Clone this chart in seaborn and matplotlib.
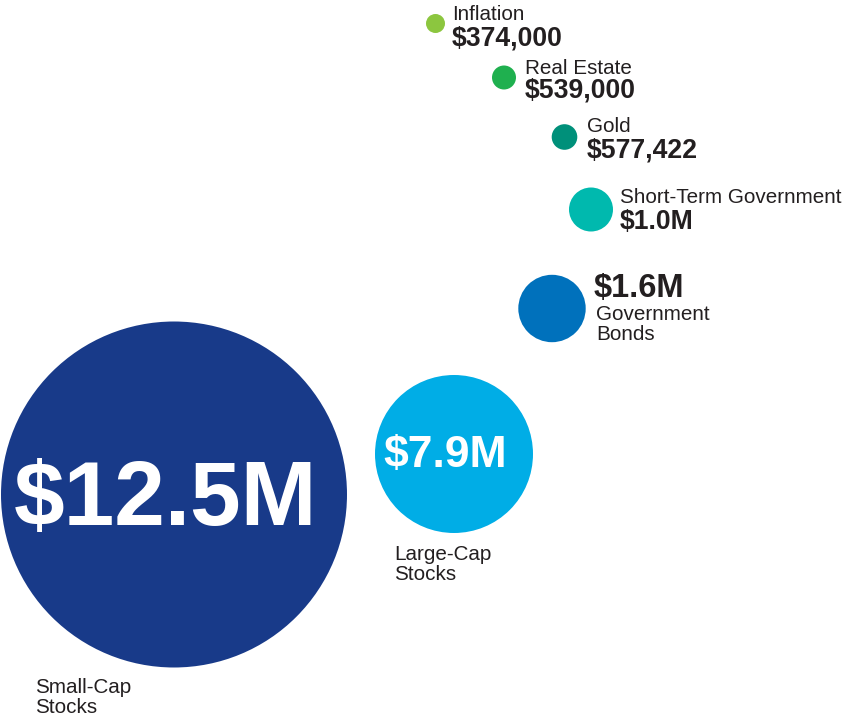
import matplotlib.pyplot as plt
import pandas as pd
import seaborn as sns

# Data
assets = ['Inflation', 'Real Estate', 'Gold', 'Short-Term Government',
          'Government Bonds', 'Large-Cap Stocks', 'Small-Cap Stocks']
values = [374000, 539000, 577422, 1.0e6, 1.6e6, 7.9e6, 12.5e6]
value_labels = ['$374,000', '$539,000', '$577,422', '$1.0M', '$1.6M', '$7.9M', '$12.5M']
name_labels = ['Inflation', 'Real Estate', 'Gold', 'Short-Term Government',
               'Government\nBonds', 'Large-Cap\nStocks', 'Small-Cap\nStocks']
colors = ['#8cc63f', '#1fb04f', '#00907a', '#00b9ae', '#0071bc', '#00ade6', '#183a89']

# Layout on a pixel canvas (origin top-left)
center_x = [435.5, 504, 564.5, 591, 552, 454, 174]
center_y = [23.5, 77.5, 137, 209.5, 308.5, 454, 494.5]
radius_px = [9.5, 12, 12.8, 22, 33.7, 79, 173]

df = pd.DataFrame({'asset': assets, 'value': values, 'cx': center_x, 'cy': center_y,
                   'size': [(2 * r * 0.72) ** 2 for r in radius_px]})

sns.set_theme(style='white')
plt.rcParams['font.family'] = ['Liberation Sans', 'DejaVu Sans']

fig = plt.figure(figsize=(8.45, 7.16), dpi=100)
ax = fig.add_axes([0, 0, 1, 1])
sns.scatterplot(data=df, x='cx', y='cy', hue='asset', palette=dict(zip(assets, colors)),
                s=df['size'], linewidth=0, legend=False, ax=ax)
ax.set_xlim(0, 845)
ax.set_ylim(716, 0)
ax.axis('off')

dark = '#231f20'


def name_text(x, y, label):
    # one text per line, y is the first baseline, lines 20px apart
    for k, line in enumerate(label.split('\n')):
        ax.text(x, y + 20 * k, line, fontsize=14.9, color=dark, va='baseline', ha='left')


# small bubbles: name above value, to the right
for i, (lx, ny, vy) in enumerate([(452, 20, 45), (525, 74, 97), (587, 132, 157), (620, 203, 229)]):
    name_text(lx, ny, name_labels[i])
    ax.text(lx, vy, value_labels[i], fontsize=19.2, fontweight='bold', color=dark,
            va='baseline', ha='left')

# government bonds: value above name
ax.text(594, 297, value_labels[4], fontsize=23.5, fontweight='bold', color=dark, va='baseline')
name_text(596, 320, name_labels[4])

# large bubbles: value inside, name below
ax.text(445, 456, value_labels[5], fontsize=32, fontweight='bold', color='white',
        ha='center', va='center')
name_text(394, 560, name_labels[5])
ax.text(166, 501, value_labels[6], fontsize=65.5, fontweight='bold', color='white',
        ha='center', va='center')
name_text(35, 693, name_labels[6])

fig.savefig('out.png', dpi=100, facecolor='white')
